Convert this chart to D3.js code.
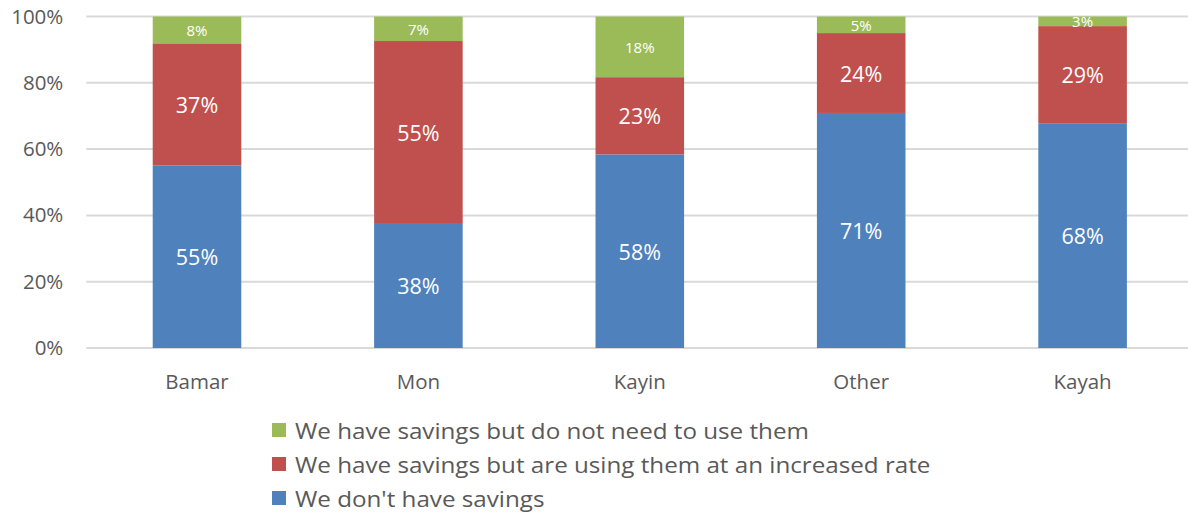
<!DOCTYPE html>
<html>
<head>
<meta charset="utf-8">
<script src="https://cdn.jsdelivr.net/npm/d3@7"></script>
<style>
  body { margin: 0; background: #fff; }
  text { font-family: "Open Sans", Lato, sans-serif; }
</style>
</head>
<body>
<div id="chart"></div>
<script>
// Chart data
var groups = ["Bamar", "Mon", "Kayin", "Other", "Kayah"];
var noSavings = [55.1, 37.7, 58.4, 70.9, 67.8];
var usingSavings = [36.8, 54.9, 23.3, 24.1, 29.3];
var notNeeded = [8.1, 7.4, 18.3, 5.0, 2.9];
var seriesNames = [
  "We don't have savings",
  "We have savings but are using them at an increased rate",
  "We have savings but do not need to use them"
];
var yTicks = [0, 20, 40, 60, 80, 100];

var colors = ["#4F81BD", "#C0504D", "#9BBB59"];

var svgWidth = 1188;
var svgHeight = 512;

var margin = { top: 16.5, left: 86.3 };
var width = 1107;
var height = 331.5;

var svg = d3.select("#chart")
  .append("svg")
  .attr("width", svgWidth)
  .attr("height", svgHeight);

var chartGroup = svg.append("g")
  .attr("transform", `translate(${margin.left}, ${margin.top})`);

var xScale = d3.scaleBand()
  .domain(groups)
  .range([0, width])
  .paddingInner(0.6)
  .paddingOuter(0.3);

var yScale = d3.scaleLinear()
  .domain([0, 100])
  .range([height, 0]);

// gridlines
chartGroup.append("g")
  .selectAll("line")
  .data(yTicks)
  .enter()
  .append("line")
  .attr("x1", 0)
  .attr("x2", width)
  .attr("y1", d => yScale(d))
  .attr("y2", d => yScale(d))
  .attr("stroke", "#D9D9D9")
  .attr("stroke-width", 2);

// y tick labels
var leftAxis = d3.axisLeft(yScale)
  .tickValues(yTicks)
  .tickFormat(d => d + "%")
  .tickSize(0)
  .tickPadding(23);

var yAxis = chartGroup.append("g").call(leftAxis);
yAxis.select(".domain").remove();
yAxis.selectAll("text")
  .attr("fill", "#595959")
  .style("font-size", "20.5px");

// x labels
var bottomAxis = d3.axisBottom(xScale).tickSize(0).tickPadding(26);
var xAxis = chartGroup.append("g")
  .attr("transform", `translate(0, ${height})`)
  .call(bottomAxis);
xAxis.select(".domain").remove();
xAxis.selectAll("text")
  .attr("fill", "#595959")
  .style("font-size", "20.5px");

// stack
var rows = groups.map(function(g, i) {
  return { group: g, s0: noSavings[i], s1: usingSavings[i], s2: notNeeded[i] };
});
var stack = d3.stack().keys(["s0", "s1", "s2"]);
var layers = stack(rows);

var layerGroups = chartGroup.selectAll("g.layer")
  .data(layers)
  .enter()
  .append("g")
  .classed("layer", true)
  .attr("fill", (d, i) => colors[i]);

layerGroups.selectAll("rect")
  .data(d => d)
  .enter()
  .append("rect")
  .attr("x", d => xScale(d.data.group))
  .attr("y", d => yScale(d[1]))
  .attr("width", xScale.bandwidth())
  .attr("height", d => yScale(d[0]) - yScale(d[1]));

// value labels
layers.forEach(function(layer, li) {
  chartGroup.append("g")
    .selectAll("text")
    .data(layer)
    .enter()
    .append("text")
    .attr("x", d => xScale(d.data.group) + xScale.bandwidth() / 2)
    .attr("y", d => yScale((d[0] + d[1]) / 2))
    .attr("text-anchor", "middle")
    .attr("dominant-baseline", "central")
    .attr("fill", "#fff")
    .style("font-size", li === 2 ? "15px" : "21.5px")
    .text(d => Math.round(d[1] - d[0]) + "%");
});

// legend (green on top)
var legendOrder = [2, 1, 0];
var legendY = [430, 464, 498];
var legend = svg.append("g");
legendOrder.forEach(function(si, i) {
  legend.append("rect")
    .attr("x", 272)
    .attr("y", legendY[i] - 7)
    .attr("width", 14)
    .attr("height", 14)
    .attr("fill", colors[si]);
  legend.append("text")
    .attr("transform", `translate(295, ${legendY[i]}) scale(1.1, 1)`)
    .attr("dominant-baseline", "central")
    .attr("fill", "#595959")
    .style("font-size", "22px")
    .text(seriesNames[si]);
});
</script>
</body>
</html>
